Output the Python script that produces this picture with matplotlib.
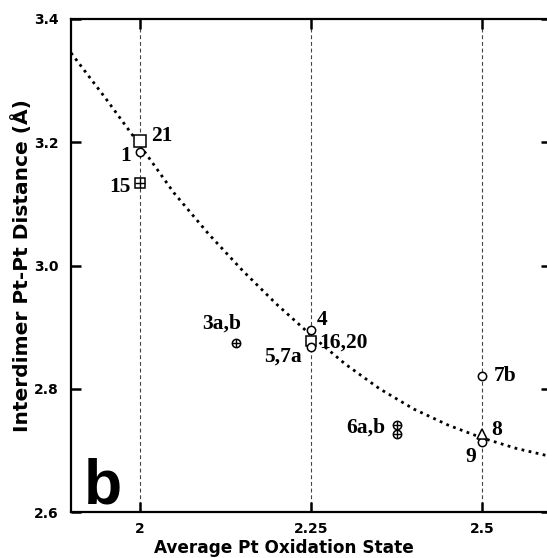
import matplotlib
matplotlib.use("Agg")
import matplotlib.pyplot as plt

# ---- data ----
x_ticks = [2.0, 2.25, 2.5]
x_tick_labels = ["2", "2.25", "2.5"]
y_ticks = [2.6, 2.8, 3.0, 3.2, 3.4]
y_tick_labels = ["2.6", "2.8", "3.0", "3.2", "3.4"]

square_x = [2.0, 2.25]
square_y = [3.202, 2.877]
square_lab = ["21", "16,20"]

circle_x = [2.0, 2.25, 2.25, 2.5, 2.5]
circle_y = [3.184, 2.896, 2.868, 2.821, 2.714]
circle_lab = ["1", "4", "5,7a", "7b", "9"]

oplus_x = [2.14, 2.375, 2.375]
oplus_y = [2.874, 2.741, 2.727]
oplus_lab = ["3a,b", "6a,b", ""]

splus_x = [2.0]
splus_y = [3.134]
splus_lab = ["15"]

tri_x = [2.5]
tri_y = [2.727]
tri_lab = ["8"]

curve_x = [1.90, 1.95, 2.00, 2.05, 2.10, 2.15, 2.20, 2.25, 2.30, 2.35, 2.40, 2.45, 2.50, 2.55, 2.60]
curve_y = [3.345, 3.272, 3.196, 3.118, 3.052, 2.992, 2.937, 2.887, 2.840, 2.800, 2.767, 2.741, 2.720, 2.703, 2.690]

# ---- figure ----
W, H = 547, 558
fig = plt.figure(figsize=(W / 100, H / 100), dpi=100)
L, R, T, B = 71, 551, 19, 512
ax = fig.add_axes([L / W, 1 - B / H, (R - L) / W, (B - T) / H])
ax.set_xlim(1.9, 2.6)
ax.set_ylim(2.6, 3.4)

for s in ax.spines.values():
    s.set_linewidth(1.6)
ax.spines["right"].set_visible(False)

for xv in x_ticks:
    ax.axvline(xv, color="#444444", lw=0.8, ls=(0, (3.5, 2.5)), zorder=1)

ax.plot(curve_x, curve_y, color="black", lw=2.0, ls=(0, (1, 1.6)), zorder=2)

mk = dict(color="black", mfc="white", mew=1.1, ls="none", zorder=4)
ax.plot(square_x[:1], square_y[:1], marker="s", ms=8.5, **mk)
ax.plot(square_x[1:], square_y[1:], marker="s", ms=7.5, **mk)
ax.plot(circle_x, circle_y, marker="o", ms=6, **mk)
ax.plot(oplus_x, oplus_y, marker="o", ms=6, **mk)
ax.plot(oplus_x, oplus_y, marker="+", ms=6, color="black", mew=1.0, ls="none", zorder=5)
ax.plot(splus_x, splus_y, marker="s", ms=6.5, **mk)
ax.plot(splus_x, splus_y, marker="+", ms=6.5, color="black", mew=1.0, ls="none", zorder=5)
ax.plot(tri_x, tri_y, marker="^", ms=7, **mk)

# label offsets in pixels (dx, dy, ha)
lab_font = dict(family="Liberation Serif", fontweight="bold", fontsize=15.5, va="center")
offsets = {
    "21": (12, 5, "left"),
    "16,20": (8, -1, "left"),
    "1": (-9, -4, "right"),
    "4": (6, 10, "left"),
    "5,7a": (-9, -10, "right"),
    "7b": (11, 0, "left"),
    "9": (-6, -15, "right"),
    "3a,b": (6, 20, "right"),
    "6a,b": (-11, -2, "right"),
    "15": (-9, -4, "right"),
    "8": (9, 4, "left"),
}
def label(xs, ys, labs):
    for xv, yv, t in zip(xs, ys, labs):
        if not t:
            continue
        dx, dy, ha = offsets[t]
        ax.annotate(t, (xv, yv), xytext=(dx * 0.72, dy * 0.72), textcoords="offset points",
                    ha=ha, zorder=6, **lab_font)

label(square_x, square_y, square_lab)
label(circle_x, circle_y, circle_lab)
label(oplus_x, oplus_y, oplus_lab)
label(splus_x, splus_y, splus_lab)
label(tri_x, tri_y, tri_lab)

ax.set_xticks(x_ticks)
ax.set_xticklabels(x_tick_labels)
ax.set_yticks(y_ticks)
ax.set_yticklabels(y_tick_labels)
ax.tick_params(axis="both", direction="in", length=7, width=1.8, top=True, right=True,
               labelsize=10, pad=7)
ax.tick_params(axis="y", pad=9)
for lab in ax.get_xticklabels() + ax.get_yticklabels():
    lab.set_fontweight("bold")
    lab.set_family("DejaVu Sans")

fig.text(84 / W, 1 - 504 / H, "b", fontsize=45, fontweight="bold", family="Liberation Sans",
         ha="left", va="baseline", zorder=6)
fig.text(284 / W, 1 - 548 / H, "Average Pt Oxidation State", ha="center", va="center",
         fontsize=12.2, fontweight="bold", family="DejaVu Sans")
fig.text(22 / W, 1 - 266 / H, "Interdimer Pt-Pt Distance (Å)", ha="center", va="center",
         rotation=90, fontsize=14.5, fontweight="bold", family="DejaVu Sans")

fig.savefig("out.png", dpi=100)
